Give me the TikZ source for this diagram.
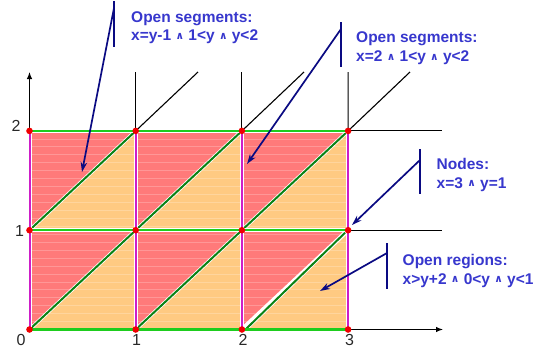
\documentclass[tikz,border=0pt]{standalone}
\usepackage{fontspec}
\setmainfont{Liberation Sans}
\newfontfamily\symfont{DejaVu Sans}
\usetikzlibrary{arrows.meta}
\definecolor{cellred}{RGB}{255,122,122}
\definecolor{cellorange}{RGB}{255,202,130}
\definecolor{hgreen}{RGB}{30,205,30}
\definecolor{dgreen}{RGB}{10,130,20}
\definecolor{vmag}{RGB}{205,30,200}
\definecolor{dotred}{RGB}{240,0,0}
\definecolor{navyblue}{RGB}{10,10,130}
\definecolor{txtblue}{RGB}{55,55,205}
\definecolor{axgray}{RGB}{40,40,40}
\newcommand{\myand}{\raisebox{1.6pt}{\fontsize{10.5}{10.5}\selectfont\symfont\bfseries ∧}}
\begin{document}
\begin{tikzpicture}[x=1pt,y=-1pt,
  halo/.style={white,line width=4.4pt},
  vline/.style={vmag,line width=2pt},
  hline/.style={hgreen,line width=2.1pt},
  diagline/.style={dgreen,line width=2pt},
  axisline/.style={black,line width=1.1pt},
  axisarrow/.style={axisline,-{Latex[length=7pt,width=5.5pt]}},
  dot/.style={circle,fill=dotred,inner sep=0pt,minimum size=6.6pt},
  axlabel/.style={text=axgray,font=\fontsize{16}{16}\selectfont,inner sep=0pt},
  anno/.style={text=txtblue,font=\fontsize{15.5}{18}\selectfont\bfseries,inner sep=0pt,anchor=base west},
  annobar/.style={navyblue,line width=1.7pt},
  annoarrow/.style={navyblue,line width=1.7pt,-{Stealth[length=10pt,width=6.5pt]}}]
\useasboundingbox (0,0) rectangle (536,354);

% ---------- grid coordinates ----------
\begin{scope}[shift={(29.5,329.5)},x=106.2pt,y=99.3pt]
  \foreach \i in {0,...,3}{\foreach \j in {0,1,2}{\coordinate (p\i\j) at (\i,\j);}}
  % cells
  \foreach \i in {0,1,2}{\foreach \j in {0,1}{
    \fill[cellred] (\i,\j) -- (\i,\j+1) -- (\i+1,\j+1) -- cycle;
    \fill[cellorange] (\i,\j) -- (\i+1,\j) -- (\i+1,\j+1) -- cycle;
  }}
  % faint stripes
  \foreach \k in {1,...,24}{\draw[white,opacity=0.22,line width=0.6pt] (0,\k/12.5) -- (3,\k/12.5);}
  \coordinate (q0) at (2.045,0.012);
  \coordinate (q1) at (2.972,0.975);
\end{scope}

% ---------- black axes and extensions ----------
\coordinate (ytop) at (29.5,72);
\coordinate (v1top) at (135.7,72);
\coordinate (v2top) at (241.9,72);
\coordinate (v3top) at (348.1,72);
\coordinate (d1top) at (198,72);
\coordinate (d2top) at (304,72);
\coordinate (d3top) at (410,72);
\coordinate (xend) at (443,329.5);
\coordinate (h1end) at (442,230.2);
\coordinate (h2end) at (442,130.9);
\draw[axisarrow] (p00) -- (ytop);
\draw[axisarrow] (p00) -- (xend);
\draw[axisline] (p12) -- (v1top);
\draw[axisline] (p22) -- (v2top);
\draw[axisline] (p32) -- (v3top);
\draw[axisline] (p12) -- (d1top);
\draw[axisline] (p22) -- (d2top);
\draw[axisline] (p32) -- (d3top);
\draw[axisline] (p31) -- (h1end);
\draw[axisline] (p32) -- (h2end);

% ---------- diagonals ----------
\foreach \a/\b in {00/11,01/12,10/21,11/22,21/32}{
  \draw[halo,line width=3.6pt] (p\a) -- (p\b);
  \draw[diagline] (p\a) -- (p\b);
}
\draw[halo,line width=4.4pt] (p20) -- (p31);
\draw[halo,line width=3.6pt] (q0) -- (q1);
\draw[diagline] (q0) -- (q1);

% ---------- vertical (magenta) ----------
\foreach \i in {0,...,3}{
  \draw[halo] (p\i0) -- (p\i2);
  \draw[vline] (p\i0) -- (p\i2);
}
% ---------- horizontal (green) ----------
\foreach \j in {0,1,2}{
  \draw[halo,line width=4pt] (p0\j) -- (p3\j);
  \draw[hline] (p0\j) -- (p3\j);
}

% ---------- nodes ----------
\foreach \i in {0,...,3}{\foreach \j in {0,1,2}{\node[dot] (n\i\j) at (p\i\j) {};}}

% ---------- axis labels ----------
\node[axlabel] (lx0) at (21,340) {0};
\node[axlabel] (lx1) at (136.5,340) {1};
\node[axlabel] (lx2) at (243,340) {2};
\node[axlabel] (lx3) at (349.5,340) {3};
\node[axlabel] (ly1) at (19.5,230.5) {1};
\node[axlabel] (ly2) at (16,125.5) {2};

% ---------- annotation 1 ----------
\node[anno] (a1l1) at (131,22.7) {Open segments:};
\node[anno] (a1l2) at (131,40.7) {x=y-1 \myand{} 1<y \myand{} y<2};
\coordinate (b1t) at (114,1);
\coordinate (b1b) at (114,47);
\coordinate (b1s) at (114,8);
\coordinate (t1) at (82,172);
\draw[annobar] (b1t) -- (b1b);
\draw[annoarrow] (b1s) -- (t1);

% ---------- annotation 2 ----------
\node[anno] (a2l1) at (356,42.7) {Open segments:};
\node[anno] (a2l2) at (356,61.7) {x=2 \myand{} 1<y \myand{} y<2};
\coordinate (b2t) at (341,22);
\coordinate (b2b) at (341,67);
\coordinate (b2s) at (341,29);
\coordinate (t2) at (247,164);
\draw[annobar] (b2t) -- (b2b);
\draw[annoarrow] (b2s) -- (t2);

% ---------- annotation 3 ----------
\node[anno] (a3l1) at (436.5,169.3) {Nodes:};
\node[anno] (a3l2) at (436.5,188.3) {x=3 \myand{} y=1};
\coordinate (b3t) at (420,149);
\coordinate (b3b) at (420,194);
\coordinate (b3s) at (420,160);
\coordinate (t3) at (352,225);
\draw[annobar] (b3t) -- (b3b);
\draw[annoarrow] (b3s) -- (t3);

% ---------- annotation 4 ----------
\node[anno] (a4l1) at (402.5,265) {Open regions:};
\node[anno] (a4l2) at (402.5,284) {x>y+2 \myand{} 0<y \myand{} y<1};
\coordinate (b4t) at (387,243);
\coordinate (b4b) at (387,289);
\coordinate (b4s) at (387,253);
\coordinate (t4) at (320,291);
\draw[annobar] (b4t) -- (b4b);
\draw[annoarrow] (b4s) -- (t4);
\end{tikzpicture}
\end{document}
